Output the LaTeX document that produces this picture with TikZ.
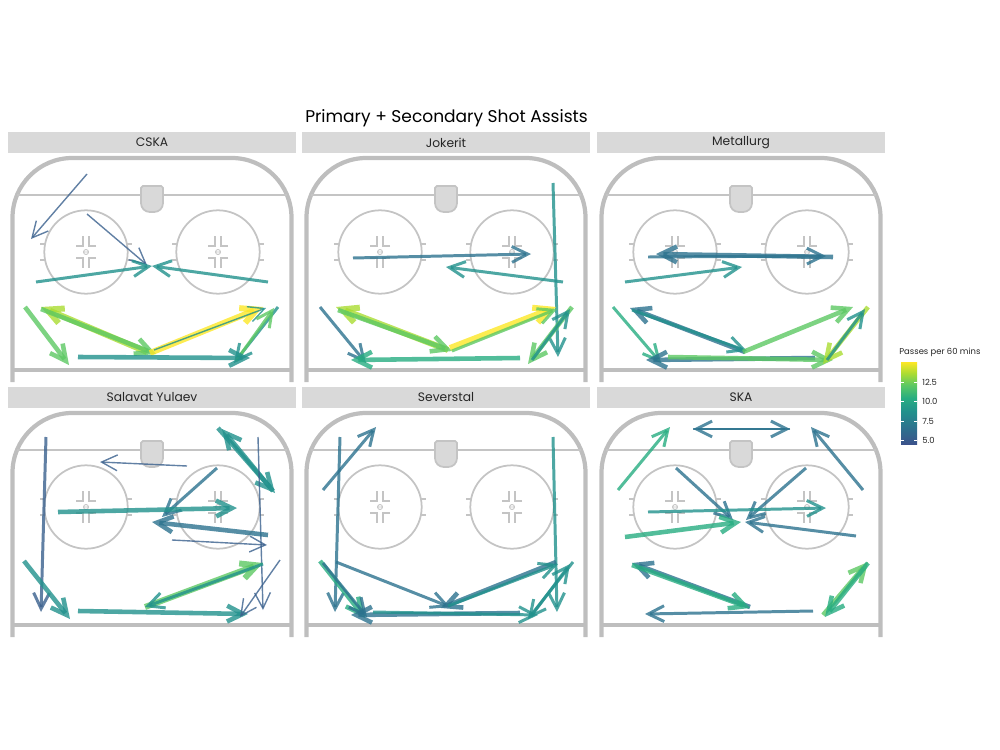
\documentclass[tikz,border=0pt]{standalone}
\usepackage{fontspec}
\setmainfont{Poppins}
\usetikzlibrary{arrows.meta}

\definecolor{vir1}{HTML}{3A608D}
\definecolor{vir2}{HTML}{2C728E}
\definecolor{vir3}{HTML}{21918C}
\definecolor{vir4}{HTML}{27AD81}
\definecolor{vir5}{HTML}{5DC863}
\definecolor{vir6}{HTML}{AADC32}
\definecolor{vir7}{HTML}{FDE725}
\definecolor{barbottom}{HTML}{3B528B}
\definecolor{boardgray}{HTML}{BEBEBE}
\definecolor{linegray}{HTML}{C4C4C4}
\definecolor{netgray}{HTML}{D9D9D9}
\definecolor{stripgray}{HTML}{D9D9D9}

\pgfdeclareverticalshading{viridis}{100bp}{color(0bp)=(barbottom); color(25bp)=(barbottom);
  color(35bp)=(vir2); color(45bp)=(vir3); color(53bp)=(vir4); color(61bp)=(vir5);
  color(68bp)=(vir6); color(75bp)=(vir7); color(100bp)=(vir7)}

\tikzset{
  boards/.style={draw=boardgray, line width=2.4pt},
  rinkline/.style={draw=linegray, line width=1pt},
  pass/.style={-{Straight Barb[length=9pt,width=9pt]}, draw opacity=0.8, line join=round},
  thinp/.style={line width=0.8pt},
  midp/.style={line width=1.7pt},
  thickp/.style={line width=2.6pt},
  heavyp/.style={line width=3.4pt},
  striplabel/.style={font=\fontsize{7}{8}\selectfont, text=black!85},
  legendtext/.style={font=\fontsize{4.8}{6}\selectfont, text=black!85, inner sep=0pt},
}

% half rink, drawn relative to the top left of a panel strip
\newcommand\rink{%
  \draw[boards, rounded corners=34pt] (4.5,250) -- (4.5,26) -- (283.5,26) -- (283.5,250);
  \draw[boards] (4.5,238) -- (283.5,238);
  \draw[rinkline] (9,63) -- (279,63);
  \filldraw[rinkline, fill=netgray, rounded corners=1pt] (133,54) -- (155,54)
    [rounded corners=5pt] -- (155,80) -- (133,80) [rounded corners=1pt] -- cycle;
  \foreach \cx in {78,210} {
    \draw[rinkline] (\cx,120) circle[radius=41.7];
    \draw[rinkline] (\cx-46,112) -- (\cx-40,112) (\cx-46,128) -- (\cx-40,128)
      (\cx+40,112) -- (\cx+46,112) (\cx+40,128) -- (\cx+46,128);
    \draw[rinkline] (\cx-10,114) -- (\cx-3,114) -- (\cx-3,104)
      (\cx+10,114) -- (\cx+3,114) -- (\cx+3,104)
      (\cx-10,126) -- (\cx-3,126) -- (\cx-3,136)
      (\cx+10,126) -- (\cx+3,126) -- (\cx+3,136);
    \draw[rinkline, line width=0.5pt] (\cx,120) circle[radius=2.5] (\cx-2.5,120) -- (\cx+2.5,120);
  }
}

\begin{document}
\begin{tikzpicture}[x=0.02cm,y=-0.02cm]
\useasboundingbox (0,0) rectangle (1000,750);

\node[font=\fontsize{9.7}{11}\selectfont] (title) at (446.5,118) {Primary + Secondary Shot Assists};

% panels
\foreach \px/\py/\team/\tag in {8/132/CSKA/cska, 302/132/Jokerit/jokerit, 597/132/Metallurg/metallurg,
    8/387/Salavat Yulaev/salavat, 302/387/Severstal/severstal, 597/387/SKA/ska} {
  \begin{scope}[shift={(\px,\py)}]
    \fill[stripgray] (0,0) rectangle (288,21);
    \node[striplabel] (\tag) at (144,10.5) {\team};
    \rink
  \end{scope}
}

% CSKA
\begin{scope}[shift={(8,132)}]
  \draw[pass, vir1, thinp] (79,42) -- (23,107);
  \draw[pass, vir1, thinp] (79,82) -- (139,133);
  \draw[pass, vir3, midp] (28,150) -- (144,134);
  \draw[pass, vir3, midp] (260,150) -- (144,134);
  \draw[pass, vir5, thickp] (17,175) -- (61,233);
  \draw[pass, vir6, heavyp] (139,220) -- (33,175);
  \draw[pass, vir5, thickp] (33,177) -- (148,222);
  \draw[pass, vir7, heavyp] (142,221) -- (255,175);
  \draw[pass, vir3, thinp] (146,218) -- (258,176);
  \draw[pass, vir3, midp] (270,175) -- (226,231);
  \draw[pass, vir5, midp] (228,229) -- (266,176);
  \draw[pass, vir3, thickp] (70,225) -- (242,226);
\end{scope}

% Jokerit
\begin{scope}[shift={(302,132)}]
  \draw[pass, vir2, midp] (51,126) -- (229,122);
  \draw[pass, vir3, midp] (261,150) -- (144,135);
  \draw[pass, vir3, midp] (251,51) -- (256,225);
  \draw[pass, vir2, midp] (18,175) -- (64,231);
  \draw[pass, vir6, heavyp] (146,218) -- (34,175);
  \draw[pass, vir5, thickp] (36,178) -- (150,219);
  \draw[pass, vir7, heavyp] (148,216) -- (254,175);
  \draw[pass, vir5, midp] (150,219) -- (255,177);
  \draw[pass, vir4, thickp] (218,226) -- (49,228);
  \draw[pass, vir5, thickp] (270,175) -- (226,232);
  \draw[pass, vir3, midp] (230,228) -- (268,177);
\end{scope}

% Metallurg
\begin{scope}[shift={(597,132)}]
  \draw[pass, vir2, thickp] (236,125) -- (59,122);
  \draw[pass, vir2, midp] (51,125) -- (229,124);
  \draw[pass, vir3, midp] (28,150) -- (145,135);
  \draw[pass, vir4, midp] (16,175) -- (64,231);
  \draw[pass, vir2, thickp] (148,220) -- (33,176);
  \draw[pass, vir3, midp] (35,178) -- (150,219);
  \draw[pass, vir5, thickp] (146,220) -- (256,175);
  \draw[pass, vir2, thickp] (218,226) -- (49,228);
  \draw[pass, vir5, thickp] (71,225) -- (236,228);
  \draw[pass, vir6, thickp] (271,175) -- (226,232);
  \draw[pass, vir3, midp] (230,228) -- (268,177);
\end{scope}

% Salavat Yulaev
\begin{scope}[shift={(8,387)}]
  \draw[pass, vir1, midp] (38,50) -- (33,225);
  \draw[pass, vir1, thinp] (179,79) -- (92,75);
  \draw[pass, vir3, thickp] (210,41) -- (267,106);
  \draw[pass, vir3, thickp] (265,104) -- (214,42);
  \draw[pass, vir1, thinp] (250,50) -- (255,223);
  \draw[pass, vir2, midp] (209,81) -- (154,130);
  \draw[pass, vir3, thickp] (50,125) -- (229,121);
  \draw[pass, vir2, thickp] (260,148) -- (144,135);
  \draw[pass, vir1, thinp] (164,153) -- (259,158);
  \draw[pass, vir3, thickp] (16,174) -- (62,232);
  \draw[pass, vir5, heavyp] (137,220) -- (255,176);
  \draw[pass, vir3, midp] (255,177) -- (137,220);
  \draw[pass, vir3, thickp] (70,224) -- (240,227);
  \draw[pass, vir1, thinp] (272,173) -- (232,230);
\end{scope}

% Severstal
\begin{scope}[shift={(302,387)}]
  \draw[pass, vir2, midp] (21,103) -- (74,40);
  \draw[pass, vir2, midp] (38,50) -- (33,225);
  \draw[pass, vir3, midp] (251,50) -- (255,225);
  \draw[pass, vir2, midp] (34,175) -- (148,220);
  \draw[pass, vir2, thickp] (254,175) -- (139,221);
  \draw[pass, vir3, midp] (146,219) -- (256,177);
  \draw[pass, vir4, thickp] (18,174) -- (63,231);
  \draw[pass, vir2, midp] (21,176) -- (65,230);
  \draw[pass, vir2, thickp] (218,226) -- (49,228);
  \draw[pass, vir3, midp] (71,225) -- (236,228);
  \draw[pass, vir3, midp] (271,175) -- (226,232);
  \draw[pass, vir3, midp] (230,228) -- (268,177);
\end{scope}

% SKA
\begin{scope}[shift={(597,387)}]
  \draw[pass, vir4, midp] (21,103) -- (73,40);
  \draw[pass, vir2, midp] (96,42) -- (193,42);
  \draw[pass, vir2, midp] (193,42) -- (96,42);
  \draw[pass, vir2, midp] (266,103) -- (214,40);
  \draw[pass, vir2, midp] (79,81) -- (136,133);
  \draw[pass, vir2, midp] (209,81) -- (149,133);
  \draw[pass, vir3, midp] (51,125) -- (229,121);
  \draw[pass, vir4, thickp] (28,150) -- (144,135);
  \draw[pass, vir2, midp] (259,149) -- (148,135);
  \draw[pass, vir2, thickp] (153,220) -- (35,176);
  \draw[pass, vir4, thickp] (35,178) -- (153,221);
  \draw[pass, vir2, midp] (216,224) -- (48,227);
  \draw[pass, vir5, thickp] (226,228) -- (271,175);
  \draw[pass, vir4, thickp] (271,176) -- (228,230);
\end{scope}

% legend
\node[legendtext, anchor=west] (legtitle) at (899,352) {Passes per 60 mins};
\shade[shading=viridis] (901,362) rectangle (917,444);
\foreach \yy/\lab [count=\i] in {382.3/12.5, 401.7/10.0, 421/7.5, 440.3/5.0} {
  \draw[white, line width=0.4pt] (901,\yy) -- (904,\yy) (914,\yy) -- (917,\yy);
  \node[legendtext, anchor=west] (tick\i) at (922,\yy) {\lab};
}
\end{tikzpicture}
\end{document}
